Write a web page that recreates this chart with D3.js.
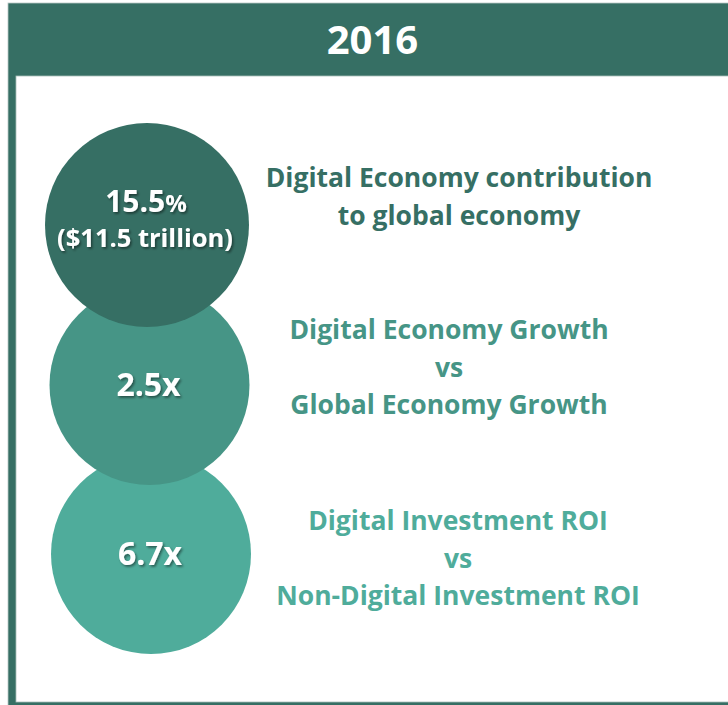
<!DOCTYPE html>
<html lang="en">
<head>
    <meta charset="UTF-8">
    <title>Digital Economy 2016</title>
    <script src="https://d3js.org/d3.v7.min.js"></script>
    <style>
        body {margin: 0; background: #fff;}
        text {
            font-family: "Open Sans", Lato, sans-serif;
            font-weight: bold;
        }
    </style>
</head>
<body>
<script>
    const width = 728;
    const height = 705;

    // data
    const year = "2016";
    const rows = ["contribution", "growth", "roi"];
    const mainValues = ["15.5", "2.5x", "6.7x"];
    const mainSuffix = ["%", "", ""];
    const subValues = ["($11.5 trillion)", "", ""];
    const descriptions = [
        ["Digital Economy contribution", "to global economy"],
        ["Digital Economy Growth", "vs", "Global Economy Growth"],
        ["Digital Investment ROI", "vs", "Non-Digital Investment ROI"]
    ];

    const dark = "#366f64";

    // layout scales
    const cy = d3.scaleOrdinal().domain(rows).range([225, 385, 554]);
    const cx = d3.scaleOrdinal().domain(rows).range([147, 149.5, 151]);
    const radius = d3.scaleOrdinal().domain(rows).range([102, 100, 100]);
    const color = d3.scaleOrdinal().domain(rows).range([dark, "#469586", "#4fac9b"]);
    const textX = d3.scaleOrdinal().domain(rows).range([459, 449, 458]);
    const textY = d3.scaleOrdinal().domain(rows).range([187, 339, 530]);
    const lineH = 37.5;

    const svg = d3.select("body").append("svg")
            .attr("width", width).attr("height", height);

    const defs = svg.append("defs");
    const f = defs.append("filter").attr("id", "shadow")
            .attr("x", "-20%").attr("y", "-20%").attr("width", "140%").attr("height", "140%");
    f.append("feDropShadow")
            .attr("dx", 1.5).attr("dy", 1.8)
            .attr("stdDeviation", 1)
            .attr("flood-color", "#000")
            .attr("flood-opacity", 0.45);

    // frame
    svg.append("rect")
            .attr("x", 8).attr("y", 3)
            .attr("width", 740).attr("height", 710)
            .style("fill", dark)
            .style("stroke", "#b9c9c5")
            .style("stroke-width", 0.8);

    svg.append("rect")
            .attr("x", 16).attr("y", 76)
            .attr("width", 730).attr("height", 626)
            .style("fill", "#fff")
            .style("stroke", "#a9bfba")
            .style("stroke-width", 0.8);

    svg.append("text")
            .attr("x", 372.5).attr("y", 54)
            .attr("text-anchor", "middle")
            .style("font-size", "40px")
            .style("fill", "#fff")
            .text(year);

    // circles, bottom one first so the top one overlaps
    const order = rows.slice().reverse();

    svg.selectAll("circle.bubble")
            .data(order)
            .enter()
            .append("circle")
            .attr("class", "bubble")
            .attr("cx", d => cx(d))
            .attr("cy", d => cy(d))
            .attr("r", d => radius(d))
            .style("fill", d => color(d));

    const labels = svg.selectAll("g.label")
            .data(rows)
            .enter()
            .append("g")
            .attr("class", "label")
            .attr("filter", "url(#shadow)")
            .style("fill", "#fff");

    labels.each(function(d, i) {
        const g = d3.select(this);
        const hasSub = subValues[i] !== "";
        const t = g.append("text")
                .attr("x", cx(d) - 1)
                .attr("y", hasSub ? cy(d) - 13 : cy(d) + 11)
                .attr("text-anchor", "middle")
                .style("font-size", hasSub ? "30px" : "32px")
                .text(mainValues[i]);
        if (mainSuffix[i]) {
            t.append("tspan").style("font-size", "24px").text(mainSuffix[i]);
        }
        if (hasSub) {
            g.append("text")
                    .attr("x", cx(d) - 2)
                    .attr("y", cy(d) + 22)
                    .attr("text-anchor", "middle")
                    .style("font-size", "25.5px")
                    .text(subValues[i]);
        }
    });

    // descriptions
    svg.selectAll("text.desc")
            .data(rows)
            .enter()
            .append("text")
            .attr("class", "desc")
            .attr("text-anchor", "middle")
            .style("font-size", "26.5px")
            .style("fill", d => color(d))
            .each(function(d, i) {
                d3.select(this).selectAll("tspan")
                        .data(descriptions[i])
                        .enter()
                        .append("tspan")
                        .attr("x", textX(d))
                        .attr("y", (s, j) => textY(d) + j * lineH)
                        .text(s => s);
            });
</script>
</body>
</html>
